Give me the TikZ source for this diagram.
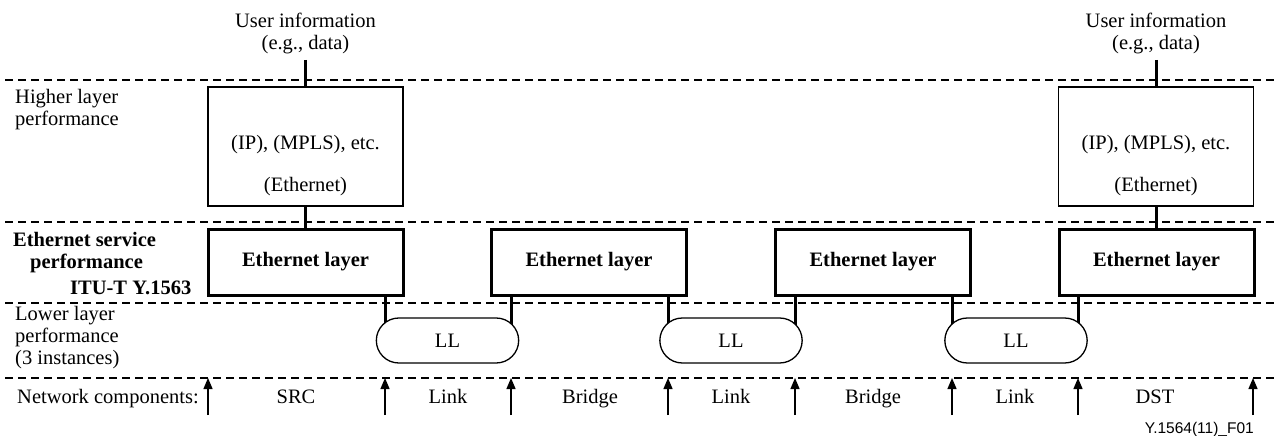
\documentclass[tikz,border=0pt]{standalone}
\usepackage{fontspec}
\setmainfont{Liberation Serif}
\newfontfamily\figsans{Liberation Sans}
\usetikzlibrary{arrows.meta,shapes.misc,calc,backgrounds}

\begin{document}
\begin{tikzpicture}[x=1pt,y=-1pt,
  font=\fontsize{20.5}{22}\selectfont,
  sep/.style={line width=1.3pt, dash pattern=on 8pt off 5pt},
  hlbox/.style={draw, line width=1.2pt, minimum width=195pt, minimum height=119pt, inner sep=0},
  ethbox/.style={draw, fill=white, line width=3pt, minimum width=195pt, minimum height=66pt,
                 font=\fontsize{20.5}{22}\selectfont\bfseries},
  llcap/.style={draw, fill=white, rounded rectangle, line width=1.3pt,
                minimum width=149pt, minimum height=45pt},
  conn/.style={line width=3pt},
  comp/.style={line width=1.3pt, -{Triangle[length=11pt,width=9pt]}},
  lbl/.style={inner sep=0, anchor=base west},
  clbl/.style={inner sep=0, anchor=base},
]
\useasboundingbox (0,0) rectangle (1276,436);

% layer separators
\foreach \n/\yy in {a/80, b/222, c/303, d/378} {
  \coordinate (\n l) at (5,\yy);
  \coordinate (\n r) at (1276,\yy);
  \draw[sep] (\n l) -- (\n r);
}

% left-hand layer labels
\node[lbl] (hl1) at (15,103) {Higher layer};
\node[lbl] (hl2) at (15,125) {performance};
\node[lbl, font=\fontsize{20.5}{22}\selectfont\bfseries] (es1) at (13,246) {Ethernet service};
\node[lbl, font=\fontsize{20.5}{22}\selectfont\bfseries] (es2) at (30,268) {performance};
\node[lbl, font=\fontsize{20.5}{22}\selectfont\bfseries] (es3) at (70,294) {ITU-T Y.1563};
\node[lbl] (ll1t) at (15,320) {Lower layer};
\node[lbl] (ll2t) at (15,342) {performance};
\node[lbl] (ll3t) at (15,364) {(3 instances)};

% user information at both ends
\node[align=center, anchor=south, inner xsep=0, inner ysep=5.5pt] (u1) at (305.5,60)
  {User information\\(e.g., data)};
\node[align=center, anchor=south, inner xsep=0, inner ysep=5.5pt] (u2) at (1156,60)
  {User information\\(e.g., data)};

% higher layer boxes
\node[hlbox] (h1) at (305.5,146.5) {};
\node[hlbox] (h2) at (1156,146.5) {};
\node (ip1) at (305.5,145) {(IP), (MPLS), etc.};
\node (et1) at (305.5,187) {(Ethernet)};
\node (ip2) at (1156,145) {(IP), (MPLS), etc.};
\node (et2) at (1156,187) {(Ethernet)};

% Ethernet layer boxes
\node[ethbox] (e1) at (305.5,262) {Ethernet layer};
\node[ethbox] (e2) at (589,262) {Ethernet layer};
\node[ethbox] (e3) at (873,262) {Ethernet layer};
\node[ethbox] (e4) at (1156.5,262) {Ethernet layer};

% lower layer links
\node[llcap] (l1) at (447.5,340.5) {LL};
\node[llcap] (l2) at (731,340.5) {LL};
\node[llcap] (l3) at (1016,340.5) {LL};

% vertical connections
\draw[conn] (u1.south) -- (h1.north);
\draw[conn] (u2.south) -- (h2.north);
\draw[conn] (h1.south) -- (e1.north -| h1.south);
\draw[conn] (h2.south) -- (e4.north -| h2.south);
\begin{scope}[on background layer]
  \coordinate (c1) at (385,262);
  \coordinate (c2) at (511,262);
  \coordinate (c3) at (668,262);
  \coordinate (c4) at (795,262);
  \coordinate (c5) at (952,262);
  \coordinate (c6) at (1078,262);
  \draw[conn] (c1) -- (c1 |- l1.center);
  \draw[conn] (c2) -- (c2 |- l1.center);
  \draw[conn] (c3) -- (c3 |- l2.center);
  \draw[conn] (c4) -- (c4 |- l2.center);
  \draw[conn] (c5) -- (c5 |- l3.center);
  \draw[conn] (c6) -- (c6 |- l3.center);
\end{scope}

% network component boundaries
\foreach \i/\xx in {1/208, 2/385, 3/511, 4/668, 5/795, 6/952, 7/1078, 8/1253} {
  \coordinate (p\i) at (\xx,415);
  \draw[comp] (p\i) -- (p\i |- dl);
}

\node[lbl] (nc) at (17,403) {Network components:};
\node[clbl] (src) at (296,403) {SRC};
\node[clbl] (lk1) at (448,403) {Link};
\node[clbl] (br1) at (590,403) {Bridge};
\node[clbl] (lk2) at (731,403) {Link};
\node[clbl] (br2) at (873,403) {Bridge};
\node[clbl] (lk3) at (1015,403) {Link};
\node[clbl] (dst) at (1155,403) {DST};

\node[anchor=base east, inner sep=0, font=\figsans\fontsize{15.5}{17}\selectfont] (fig) at (1254,433)
  {Y.1564(11)\_F01};
\end{tikzpicture}
\end{document}
